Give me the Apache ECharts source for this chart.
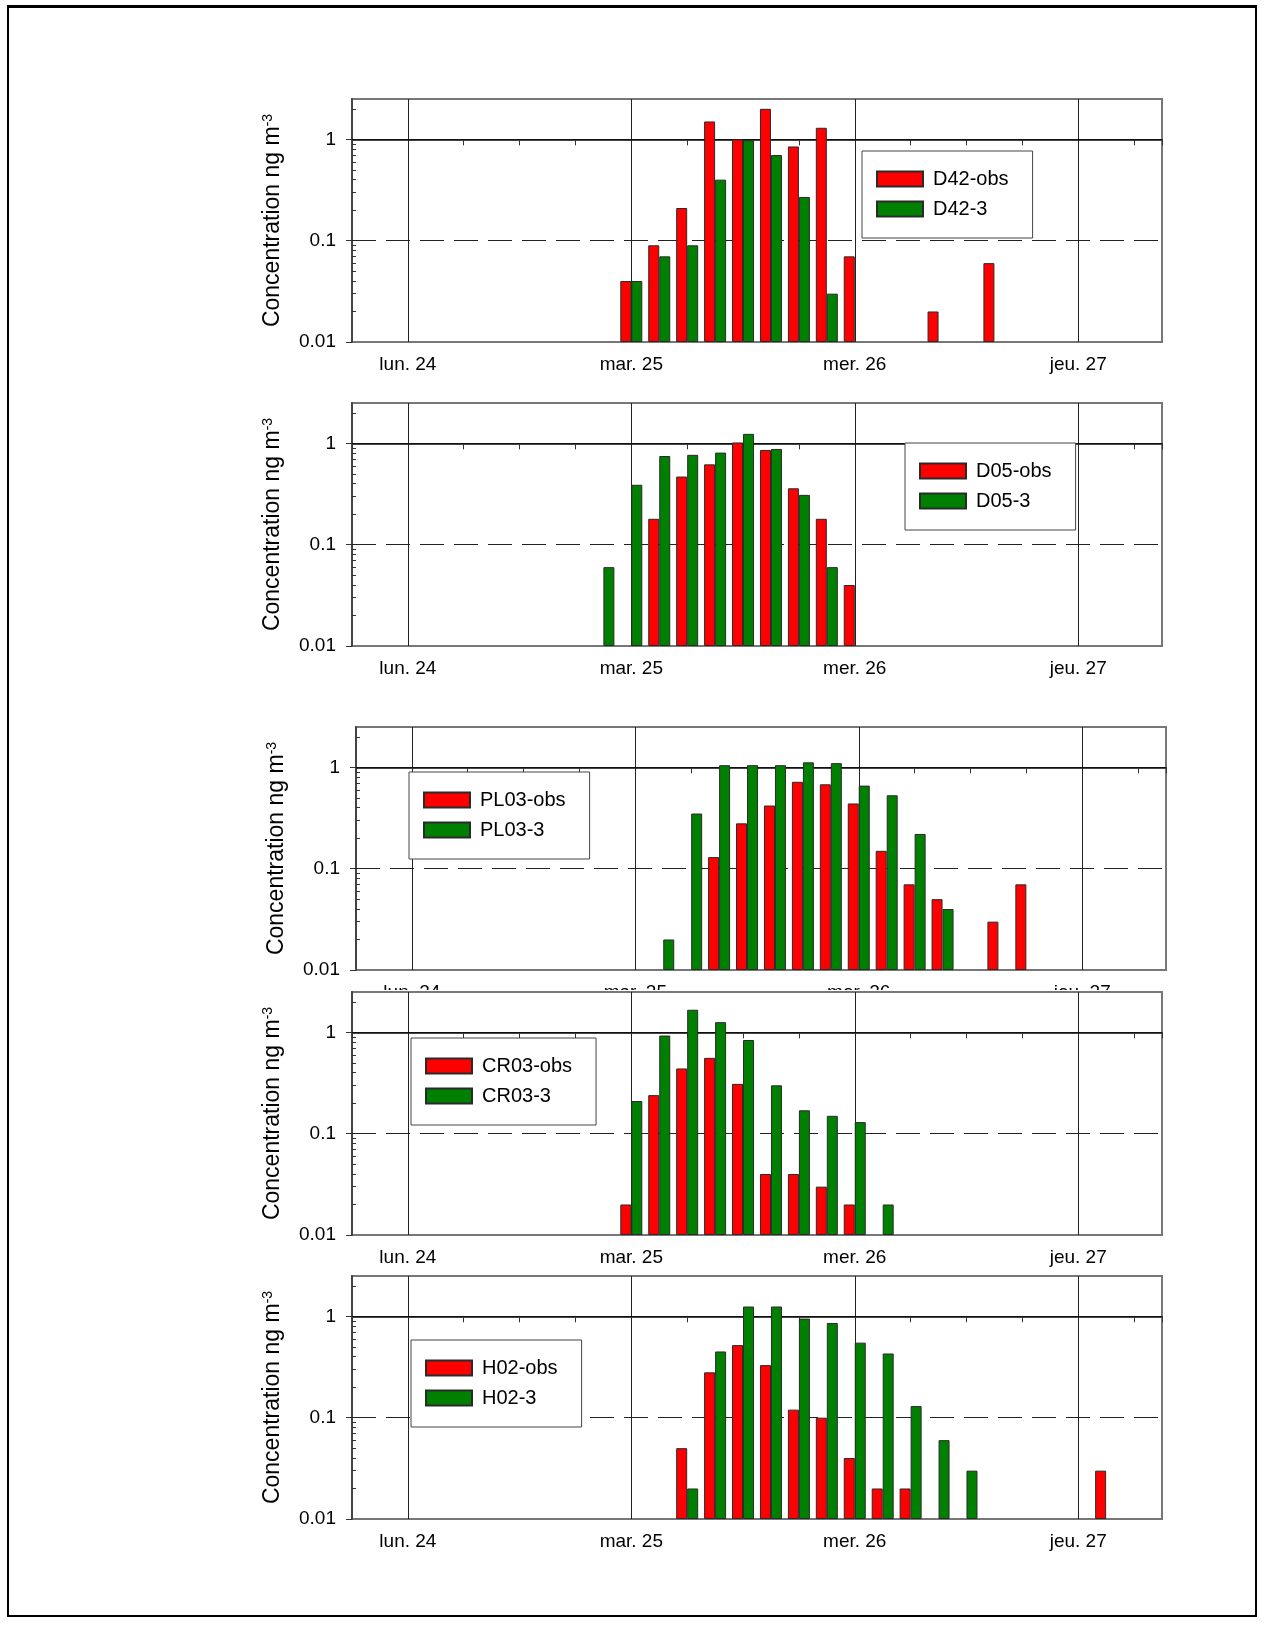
<!DOCTYPE html>
<html>
<head>
<meta charset="utf-8">
<script src="https://cdn.jsdelivr.net/npm/echarts@6/dist/echarts.min.js"></script>
<style>
html, body { margin: 0; padding: 0; background: #fff; }
body { width: 1264px; height: 1625px; position: relative; overflow: hidden; }
#frame { position: absolute; left: 7px; top: 5px; width: 1246px; height: 1607px; border: 2px solid #000; border-top-width: 3px; }
.panel { position: absolute; left: 20px; width: 1220px; height: 295px; background: #fff; }
</style>
</head>
<body>
<div id="frame"></div>
<div id="p1" class="panel"></div>
<div id="p2" class="panel"></div>
<div id="p3" class="panel"></div>
<div id="p4" class="panel"></div>
<div id="p5" class="panel"></div>
<script>
// x axis: hours from lun. 24 00:00
var dayLabels = ['lun. 24', 'mar. 25', 'mer. 26', 'jeu. 27'];
var dayHours = [0, 24, 48, 72];
var hours = [21, 24, 27, 30, 33, 36, 39, 42, 45, 48, 51, 54, 57, 60, 63, 66, 69, 72, 75];
var yTicks = [0.01, 0.1, 1];
var yMinor = [0.02, 0.03, 0.04, 0.05, 0.06, 0.07, 0.08, 0.09, 0.2, 0.3, 0.4, 0.5, 0.6, 0.7, 0.8, 0.9, 2];

var d42Obs  = [null, 0.04, 0.09, 0.21, 1.5, 1.0, 2.0, 0.85, 1.3, 0.07, null, null, 0.02, null, 0.06, null, null, null, null];
var d42Mod  = [null, 0.04, 0.07, 0.09, 0.40, 0.98, 0.70, 0.27, 0.03, null, null, null, null, null, null, null, null, null, null];
var d05Obs  = [null, null, 0.18, 0.47, 0.62, 1.02, 0.86, 0.36, 0.18, 0.04, null, null, null, null, null, null, null, null, null];
var d05Mod  = [0.06, 0.39, 0.75, 0.77, 0.81, 1.24, 0.88, 0.31, 0.06, null, null, null, null, null, null, null, null, null, null];
var pl03Obs = [null, null, null, null, 0.13, 0.28, 0.42, 0.72, 0.68, 0.44, 0.15, 0.07, 0.05, null, 0.03, 0.07, null, null, null];
var pl03Mod = [null, null, 0.02, 0.35, 1.05, 1.05, 1.05, 1.12, 1.10, 0.66, 0.53, 0.22, 0.04, null, null, null, null, null, null];
var cr03Obs = [null, 0.02, 0.24, 0.44, 0.56, 0.31, 0.04, 0.04, 0.03, 0.02, null, null, null, null, null, null, null, null, null];
var cr03Mod = [null, 0.21, 0.93, 1.67, 1.26, 0.84, 0.30, 0.17, 0.15, 0.13, 0.02, null, null, null, null, null, null, null, null];
var h02Obs  = [null, null, null, 0.05, 0.28, 0.52, 0.33, 0.12, 0.10, 0.04, 0.02, 0.02, null, null, null, null, null, null, 0.03];
var h02Mod  = [null, null, null, 0.02, 0.45, 1.25, 1.25, 0.95, 0.86, 0.55, 0.43, 0.13, 0.06, 0.03, null, null, null, null, null];

var X_MIN = -6, X_MAX = 81, Y_MIN = 0.01, Y_MAX = 2.5;
var PLOT_W = 810, PLOT_H = 243;
var FONT = "'Liberation Sans', Arial, sans-serif";

var panels = [
    {id: 'p1', names: ['D42-obs', 'D42-3'], obs: d42Obs, mod: d42Mod, plot: [352, 99], legend: [862, 151]},
    {id: 'p2', names: ['D05-obs', 'D05-3'], obs: d05Obs, mod: d05Mod, plot: [352, 403], legend: [905, 443]},
    {id: 'p3', names: ['PL03-obs', 'PL03-3'], obs: pl03Obs, mod: pl03Mod, plot: [356, 727], legend: [409, 772]},
    {id: 'p4', names: ['CR03-obs', 'CR03-3'], obs: cr03Obs, mod: cr03Mod, plot: [352, 992], legend: [411, 1038]},
    {id: 'p5', names: ['H02-obs', 'H02-3'], obs: h02Obs, mod: h02Mod, plot: [352, 1276], legend: [411, 1340]}
];

function pairs(vals) {
    var out = [];
    for (var i = 0; i < hours.length; i++) {
        if (vals[i] != null) out.push([hours[i] - X_MIN, vals[i]]);
    }
    return out;
}

function log10s(arr) {
    return arr.map(function (v) { return Math.log10(v); });
}

function barSeries(name, vals, color) {
    return {
        name: name,
        type: 'bar',
        data: pairs(vals),
        barWidth: 11,
        barGap: '0%',
        z: 2,
        itemStyle: {color: color, borderColor: '#2a2a2a', borderWidth: 1}
    };
}

// helper axis in log10 space, only used to draw ticks
function tickAxis(values, inside, len) {
    return {
        type: 'value',
        min: Math.log10(Y_MIN), max: Math.log10(Y_MAX),
        position: 'left',
        axisLine: {show: false},
        axisLabel: {show: false},
        splitLine: {show: false},
        axisTick: {show: true, inside: inside, length: len, customValues: log10s(values), lineStyle: {color: '#333'}}
    };
}

function drawPanel(p) {
    var el = document.getElementById(p.id);
    var top = p.plot[1] - 2;
    el.style.top = top + 'px';
    var chart = echarts.init(el, null, {renderer: 'canvas'});
    var lines = dayHours.map(function (h) {
        return {xAxis: h - X_MIN, lineStyle: {color: '#222', width: 1, type: 'solid'}};
    });
    lines.push({yAxis: 1, lineStyle: {color: '#111', width: 1, type: 'solid'}});
    lines.push({yAxis: 0.1, lineStyle: {color: '#222', width: 1, type: [24, 10]}});
    chart.setOption({
        animation: false,
        textStyle: {fontFamily: FONT, color: '#000'},
        grid: {
            left: p.plot[0] - 20, top: 2, width: PLOT_W, height: PLOT_H,
            show: true, borderColor: '#777', borderWidth: 2, backgroundColor: 'transparent'
        },
        legend: {
            data: p.names,
            orient: 'vertical',
            icon: 'rect',
            left: p.legend[0] - 20,
            top: p.legend[1] - top,
            padding: [18, 24, 19, 14],
            itemWidth: 46,
            itemHeight: 15,
            itemGap: 10,
            borderColor: '#444',
            borderWidth: 1,
            backgroundColor: '#fff',
            textStyle: {fontFamily: FONT, fontSize: 20, color: '#000', lineHeight: 15, padding: [0, 0, 0, 5]}
        },
        xAxis: {
            type: 'value',
            min: 0, max: X_MAX - X_MIN, interval: 6,
            axisLine: {lineStyle: {color: '#444', width: 2}},
            axisTick: {show: true, length: 6, lineStyle: {color: '#333'}},
            splitLine: {show: false},
            axisLabel: {
                fontSize: 19, color: '#000', margin: 13, fontFamily: FONT,
                formatter: function (v) {
                    var i = dayHours.indexOf(Math.round(v + X_MIN));
                    return i >= 0 ? dayLabels[i] : '';
                }
            }
        },
        yAxis: [{
            type: 'log',
            logBase: 10,
            min: Y_MIN, max: Y_MAX,
            startValue: Y_MIN,
            position: 'left',
            axisLine: {show: true, lineStyle: {color: '#444', width: 2}},
            axisTick: {show: false},
            splitLine: {show: false},
            axisLabel: {
                fontSize: 19, color: '#000', margin: 16, fontFamily: FONT,
                formatter: function (v) {
                    for (var i = 0; i < yTicks.length; i++) {
                        if (Math.abs(Math.log10(v) - Math.log10(yTicks[i])) < 1e-6) return String(yTicks[i]);
                    }
                    return '';
                }
            },
            name: 'Concentration ng m{sup|-3}',
            nameLocation: 'middle',
            nameRotate: 90,
            nameGap: 68,
            nameTextStyle: {
                fontFamily: FONT, fontSize: 23, color: '#000',
                rich: {sup: {fontFamily: FONT, fontSize: 14, color: '#000', verticalAlign: 'top'}}
            }
        },
        tickAxis(yMinor, true, 4),
        tickAxis(yTicks, false, 6)],
        series: [
            barSeries(p.names[0], p.obs, '#ff0000'),
            barSeries(p.names[1], p.mod, '#008000'),
            {
                type: 'line', data: [], silent: true, z: 1,
                markLine: {silent: true, z: 1, symbol: ['none', 'none'], label: {show: false}, data: lines}
            }
        ]
    });
}

panels.forEach(drawPanel);
</script>
</body>
</html>
